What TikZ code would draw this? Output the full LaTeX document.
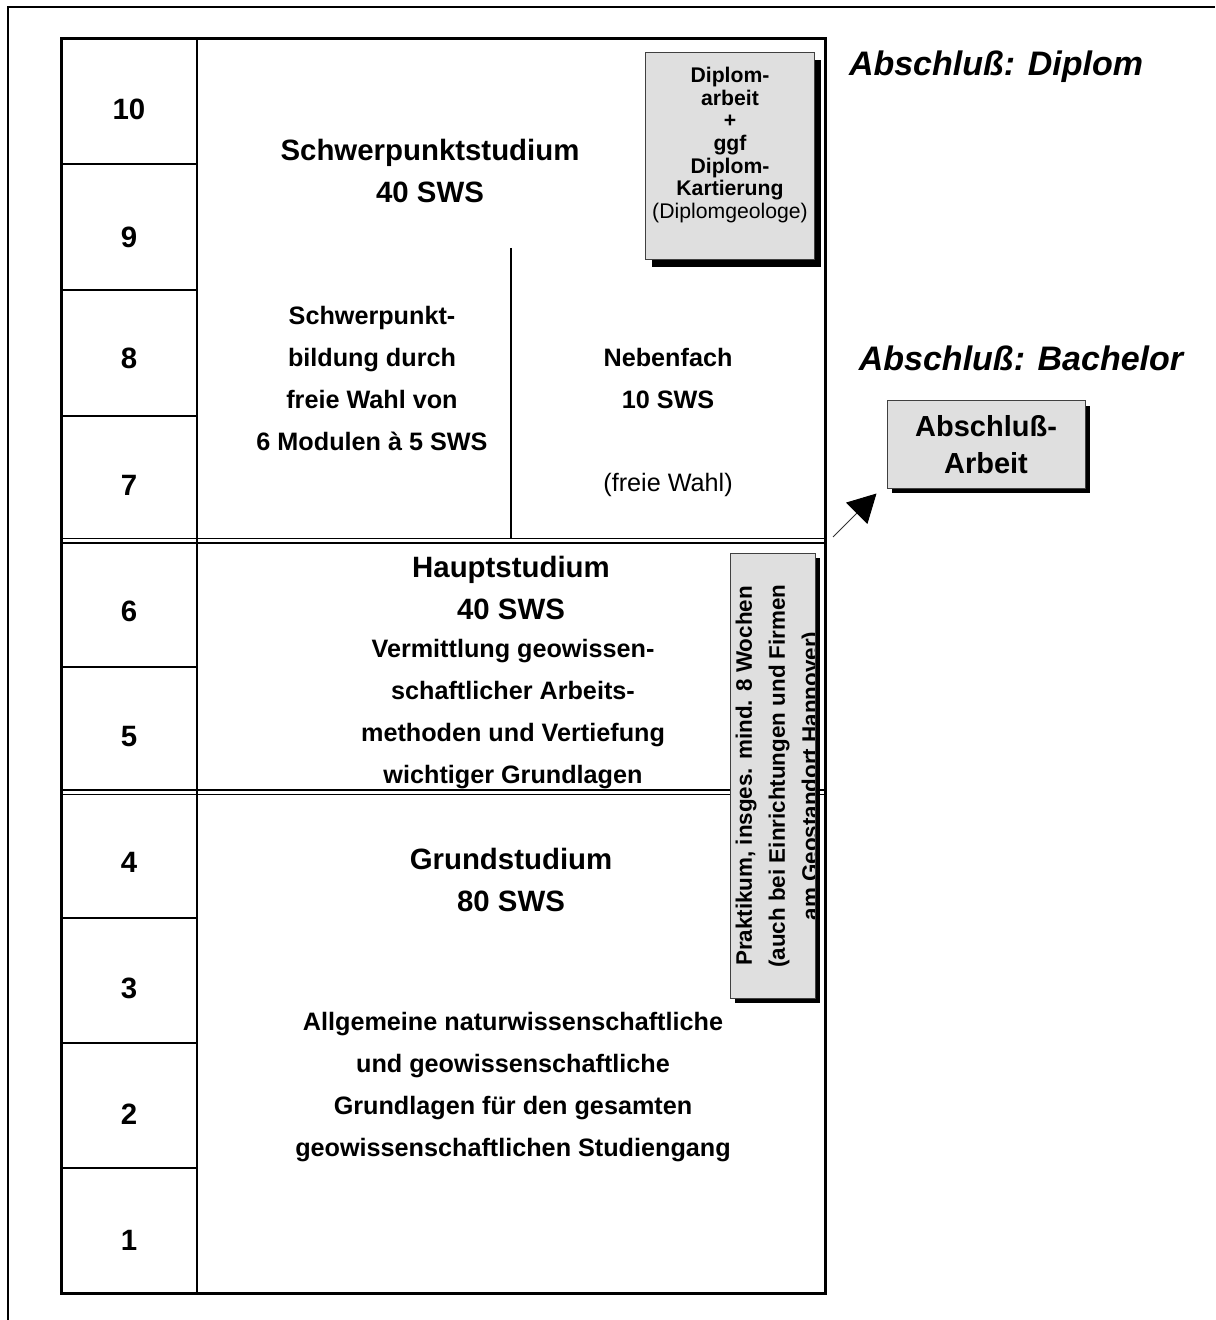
\documentclass[tikz,border=0pt]{standalone}
\usepackage{fontspec}
\setmainfont{Liberation Sans}
\usetikzlibrary{arrows.meta,calc}
\begin{document}
\begin{tikzpicture}[x=0.5pt,y=-0.5pt,
  num/.style={font=\fontsize{14.7}{18}\selectfont\bfseries, inner sep=0},
  titletext/.style={font=\fontsize{14.7}{21}\selectfont\bfseries, align=center, inner sep=0},
  bodytext/.style={font=\fontsize{12.6}{21}\selectfont\bfseries, align=center, inner sep=0},
  headline/.style={font=\fontsize{17}{20}\selectfont\bfseries\itshape, inner sep=0},
  graybox/.style={draw=black!75, line width=0.5pt, fill=gray!25},
  shadowbox/.style={fill=black, draw=none},
  tabouter/.style={line width=1.5pt},
  tabinner/.style={line width=1pt},
  dbl/.style={line width=0.8pt}
]
\useasboundingbox (0,0) rectangle (1215,1320);

% outer frame (open to the right and bottom)
\draw[line width=0.8pt] (8,1320) -- (8,7) -- (1215,7);

% table
\draw[tabouter] (61.5,39) rectangle (825,1293.5);
\draw[tabinner] (197,39) -- (197,1293.5);
\foreach \yy in {164,290,416,667,918,1043,1168}
  \draw[tabinner] (61.5,\yy) -- (197,\yy);
\draw[dbl] (61.5,538.5) -- (825,538.5);
\draw[dbl] (61.5,543) -- (825,543);
\draw[dbl] (61.5,790) -- (825,790);
\draw[dbl] (61.5,794.5) -- (825,794.5);
\draw[tabinner] (511,248) -- (511,538.5);

% semester numbers
\node[num] (n10) at (129,109) {10};
\node[num] (n9) at (129,237) {9};
\node[num] (n8) at (129,358) {8};
\node[num] (n7) at (129,485) {7};
\node[num] (n6) at (129,611) {6};
\node[num] (n5) at (129,737) {5};
\node[num] (n4) at (129,862) {4};
\node[num] (n3) at (129,988) {3};
\node[num] (n2) at (129,1114) {2};
\node[num] (n1) at (129,1240) {1};

% Schwerpunktstudium
\node[titletext] (sps) at (430,171) {Schwerpunktstudium\\40 SWS};
\node[bodytext] (spb) at (372,378.5) {Schwerpunkt-\\bildung durch\\freie Wahl von\\6 Modulen à 5 SWS};
\node[bodytext] (nf) at (668,378) {Nebenfach\\10 SWS};
\node[font=\fontsize{12.6}{21}\selectfont, inner sep=0] (fw) at (668,485) {(freie Wahl)};

% Hauptstudium
\node[titletext] (hs) at (511,588) {Hauptstudium\\40 SWS};
\node[bodytext] (hsb) at (513,714) {Vermittlung geowissen-\\schaftlicher Arbeits-\\methoden und Vertiefung\\wichtiger Grundlagen};

% Grundstudium
\node[titletext] (gs) at (511,880) {Grundstudium\\80 SWS};
\node[bodytext] (gsb) at (513,1087) {Allgemeine naturwissenschaftliche\\und geowissenschaftliche\\Grundlagen für den gesamten\\geowissenschaftlichen Studiengang};

% Diplom box
\fill[shadowbox] (652,60) rectangle (821,267);
\node[graybox, minimum width=84.5pt, minimum height=103.5pt, inner sep=0] (dbox) at (729.5,156.5) {};
\node[font=\fontsize{10.6}{11.3}\selectfont, align=center, inner sep=0] (dtext) at (730,145)
  {\textbf{Diplom-}\\\textbf{arbeit}\\\textbf{+}\\\textbf{ggf}\\\textbf{Diplom-}\\\textbf{Kartierung}\\(Diplomgeologe)};

% Praktikum box
\fill[shadowbox] (735,558) rectangle (820,1003);
\node[graybox, minimum width=42.5pt, minimum height=222.5pt, inner sep=0] (pbox) at (772.5,775.5) {};
\begin{scope}
  \clip (730.5,553.5) rectangle (814.5,997.5);
  \node[font=\fontsize{11.2}{16.5}\selectfont\bfseries, align=center, inner sep=0, rotate=90] (ptext) at (779,776)
    {Praktikum, insges. mind. 8 Wochen\\(auch bei Einrichtungen und Firmen\\am Geostandort Hannover)};
\end{scope}

% Bachelor
\node[headline] (hdip) at (996,67) {Abschluß: Diplom};
\node[headline] (hbach) at (1021,358) {Abschluß: Bachelor};
\fill[shadowbox] (892,406) rectangle (1090,493);
\node[graybox, minimum width=99pt, minimum height=43.5pt, inner sep=0, align=center,
  font=\fontsize{14.5}{18.5}\selectfont\bfseries] (abs) at (986,444.5) {Abschluß-\\Arbeit};

\coordinate (arrS) at (833,537);
\draw[line width=0.5pt, draw=black!80, -{Triangle[length=14pt,width=15pt,color=black]}] (arrS) -- ($(abs.south west)+(-10,5)$);
\end{tikzpicture}
\end{document}
